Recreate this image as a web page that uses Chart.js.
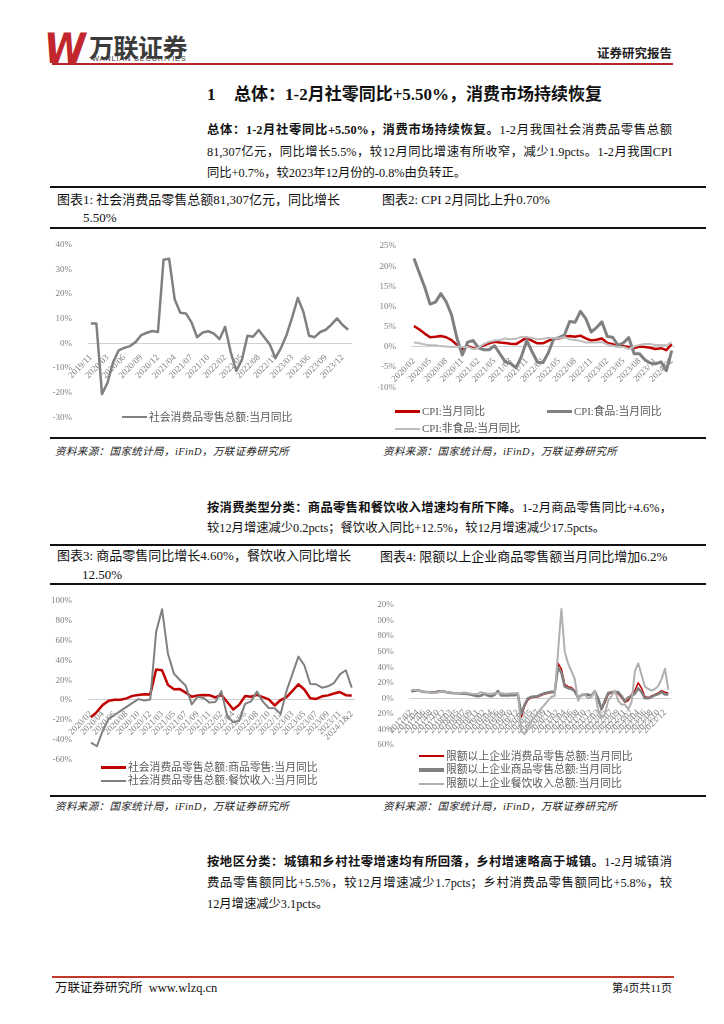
<!DOCTYPE html>
<html lang="zh-CN">
<head>
<meta charset="UTF-8" />
<title>万联证券研究报告</title>
<script src="https://cdn.jsdelivr.net/npm/chart.js@4.4.1/dist/chart.umd.min.js"></script>
<style>
  body { margin: 0; background: #fff; }
  #page {
    position: relative; width: 724px; height: 1024px; overflow: hidden; background: #fff;
    font-family: "Liberation Serif", "Noto Sans CJK SC", serif; color: #111;
  }
  .a { position: absolute; white-space: nowrap; }
  .rule { position: absolute; left: 50px; width: 656px; height: 2px; background: #111; }
  .line { position: absolute; left: 207px; width: 465px; font-size: 12.3px; line-height: 16px;
    text-align: justify; text-align-last: justify; white-space: normal; }
  .line.last { text-align-last: left; }
  .ttl { font-size: 13px; line-height: 16px; }
  .src { font-size: 10.5px; line-height: 14px; font-style: italic; letter-spacing: 0.4px; color: #222; }
  .lg { font-size: 10.8px; line-height: 14px; color: #595959; }
  .lg i { display: inline-block; vertical-align: middle; margin-right: 2px; position: relative; top: -1px; }
  canvas { position: absolute; }
</style>
</head>
<body>
<div id="page">
  <!-- header -->
  <div class="a" style="left:47px;top:29px;font:bold 42px 'DejaVu Sans';color:#c1272d;letter-spacing:-5px;transform:skewX(-8deg) scaleX(0.9);transform-origin:left top;line-height:40px">W</div>
  <div class="a" style="left:89px;top:33px;font:bold 25px 'Noto Sans CJK SC';color:#3b3b3b;line-height:26px;letter-spacing:-0.5px">万联证券</div>
  <div class="a" style="left:92px;top:55px;font:7.5px 'Liberation Sans';color:#3b3b3b;line-height:8px;letter-spacing:0.75px">WANLIAN SECURITIES</div>
  <div class="a" style="left:52px;top:63px;width:621px;height:1.5px;background:#b5272d"></div>
  <div class="a" style="left:572px;top:46px;width:100px;text-align:right;font:bold 12.5px 'Noto Sans CJK SC';line-height:14px;color:#222">证券研究报告</div>

  <div class="a" style="left:207px;top:85px;font-size:17px;line-height:20px;font-weight:bold">1</div>
  <div class="a" style="left:234px;top:85px;font-size:17px;line-height:20px;font-weight:bold">总体：1-2月社零同比+5.50%，消费市场持续恢复</div>

  <div class="line" style="top:122px"><b>总体：1-2月社零同比+5.50%，消费市场持续恢复。</b>1-2月我国社会消费品零售总额</div>
  <div class="line" style="top:143.5px">81,307亿元，同比增长5.5%，较12月同比增速有所收窄，减少1.9pcts。1-2月我国CPI</div>
  <div class="line last" style="top:165px">同比+0.7%，较2023年12月份的-0.8%由负转正。</div>

  <!-- figure row 1 -->
  <div class="rule" style="top:186px"></div>
  <div class="a ttl" style="left:57px;top:192px">图表1:&nbsp;社会消费品零售总额81,307亿元，同比增长</div>
  <div class="a ttl" style="left:83px;top:210px">5.50%</div>
  <div class="a ttl" style="left:382px;top:192px">图表2:&nbsp;CPI 2月同比上升0.70%</div>
  <div class="rule" style="top:227px"></div>
  <canvas id="c1"></canvas>
  <canvas id="c2"></canvas>
  <div class="rule" style="top:437px"></div>
  <div class="a src" style="left:55px;top:445px">资料来源：国家统计局，iFinD，万联证券研究所</div>
  <div class="a src" style="left:383px;top:445px">资料来源：国家统计局，iFinD，万联证券研究所</div>

  <div class="line" style="top:499.5px"><b>按消费类型分类：商品零售和餐饮收入增速均有所下降。</b>1-2月商品零售同比+4.6%，</div>
  <div class="line last" style="top:519.5px">较12月增速减少0.2pcts；餐饮收入同比+12.5%，较12月增速减少17.5pcts。</div>

  <!-- figure row 2 -->
  <div class="rule" style="top:544px"></div>
  <div class="a ttl" style="left:57px;top:548px">图表3:&nbsp;商品零售同比增长4.60%，餐饮收入同比增长</div>
  <div class="a ttl" style="left:82px;top:567px">12.50%</div>
  <div class="a ttl" style="left:380px;top:549px">图表4:&nbsp;限额以上企业商品零售额当月同比增加6.2%</div>
  <div class="rule" style="top:583px"></div>
  <canvas id="c3"></canvas>
  <canvas id="c4"></canvas>
  <div class="rule" style="top:795px"></div>
  <div class="a src" style="left:55px;top:800px">资料来源：国家统计局，iFinD，万联证券研究所</div>
  <div class="a src" style="left:383px;top:800px">资料来源：国家统计局，iFinD，万联证券研究所</div>

  <div class="line" style="top:854px"><b>按地区分类：城镇和乡村社零增速均有所回落，乡村增速略高于城镇。</b>1-2月城镇消</div>
  <div class="line" style="top:875px">费品零售额同比+5.5%，较12月增速减少1.7pcts；乡村消费品零售额同比+5.8%，较</div>
  <div class="line last" style="top:896px">12月增速减少3.1pcts。</div>

  <!-- footer -->
  <div class="a" style="left:52px;top:976px;width:622px;height:2px;background:#c0392b"></div>
  <div class="a" style="left:55px;top:981px;font-size:12.5px;line-height:15px">万联证券研究所&nbsp;&nbsp;www.wlzq.cn</div>
  <div class="a" style="left:572px;top:981px;width:100px;text-align:right;font-size:11px;line-height:15px">第4页共11页</div>
</div>

<script>
  // 图表1：社零当月同比
  const months1 = ["2019/11","2019/12","2020/02","2020/03","2020/04","2020/05","2020/06","2020/07","2020/08","2020/09","2020/10","2020/11","2020/12",
    "2021/02","2021/03","2021/04","2021/05","2021/06","2021/07","2021/08","2021/09","2021/10","2021/11","2021/12",
    "2022/02","2022/03","2022/04","2022/05","2022/06","2022/07","2022/08","2022/09","2022/10","2022/11","2022/12",
    "2023/02","2023/03","2023/04","2023/05","2023/06","2023/07","2023/08","2023/09","2023/10","2023/11","2023/12","2024/02"];
  const retailYoY = [8.0, 8.0, -20.5, -15.8, -7.5, -2.8, -1.8, -1.1, 0.5, 3.3, 4.3, 5.0, 4.6,
    33.8, 34.2, 17.7, 12.4, 12.1, 8.5, 2.5, 4.4, 4.9, 3.9, 1.7,
    6.7, -3.5, -11.1, -6.7, 3.1, 2.7, 5.4, 2.5, -0.5, -5.9, -1.8,
    3.5, 10.6, 18.4, 12.7, 3.1, 2.5, 4.6, 5.5, 7.6, 10.1, 7.4, 5.5];

  // 图表2：CPI
  const months2 = ["2020/02","2020/03","2020/04","2020/05","2020/06","2020/07","2020/08","2020/09","2020/10","2020/11","2020/12",
    "2021/01","2021/02","2021/03","2021/04","2021/05","2021/06","2021/07","2021/08","2021/09","2021/10","2021/11","2021/12",
    "2022/01","2022/02","2022/03","2022/04","2022/05","2022/06","2022/07","2022/08","2022/09","2022/10","2022/11","2022/12",
    "2023/01","2023/02","2023/03","2023/04","2023/05","2023/06","2023/07","2023/08","2023/09","2023/10","2023/11","2023/12",
    "2024/01","2024/02"];
  const cpiAll = [5.2, 4.3, 3.3, 2.4, 2.5, 2.7, 2.4, 1.7, 0.5, -0.5, 0.2,
    -0.3, -0.2, 0.4, 0.9, 1.3, 1.1, 1.0, 0.8, 0.7, 1.5, 2.3, 1.5,
    0.9, 0.9, 1.5, 2.1, 2.1, 2.5, 2.7, 2.5, 2.8, 2.1, 1.6, 1.8,
    2.1, 1.0, 0.7, 0.1, 0.2, 0.0, -0.3, 0.1, 0.0, -0.2, -0.5, -0.3,
    -0.8, 0.7];
  const cpiFood = [21.9, 18.3, 14.8, 10.6, 11.1, 13.2, 11.2, 7.9, 2.2, -2.0, 1.2,
    1.6, -0.2, -0.7, -0.7, 0.3, -1.7, -3.7, -4.1, -5.2, -2.4, 1.6, -1.2,
    -3.8, -3.9, -1.5, 1.9, 2.3, 2.9, 6.3, 6.1, 8.8, 7.0, 3.7, 4.8,
    6.2, 2.6, 2.4, 0.4, 1.0, 2.3, -1.7, -1.7, -3.2, -4.0, -4.2, -3.7,
    -5.9, -0.9];
  const cpiNonFood = [1.1, 0.9, 0.6, 0.4, 0.4, 0.2, 0.1, 0.0, 0.1, 0.0, 0.0,
    -0.5, -0.2, 0.7, 1.3, 1.6, 1.7, 2.1, 1.9, 2.0, 2.5, 2.4, 2.2,
    1.9, 2.0, 2.2, 2.2, 2.1, 2.5, 1.9, 1.7, 1.5, 1.1, 1.1, 1.1,
    1.2, 0.6, 0.3, 0.0, 0.0, -0.5, 0.1, 0.5, 0.7, 0.7, 0.5, 0.5,
    0.4, 1.1];

  // 图表3：商品零售 / 餐饮收入
  const months3 = ["2020/02","2020/03","2020/04","2020/05","2020/06","2020/07","2020/08","2020/09","2020/10","2020/11","2020/12",
    "2021/02","2021/03","2021/04","2021/05","2021/06","2021/07","2021/08","2021/09","2021/10","2021/11","2021/12",
    "2022/02","2022/03","2022/04","2022/05","2022/06","2022/07","2022/08","2022/09","2022/10","2022/11","2022/12",
    "2023/02","2023/03","2023/04","2023/05","2023/06","2023/07","2023/08","2023/09","2023/10","2023/11","2023/12",
    "2024/1&2"];
  const goodsYoY = [-17.6, -12.0, -5.0, -0.8, 0.2, 0.2, 1.6, 4.1, 5.0, 5.8, 5.6,
    30.7, 29.9, 15.1, 10.9, 11.0, 7.4, 3.3, 4.5, 4.9, 4.8, 2.5,
    5.0, -2.1, -9.7, -5.0, 3.9, 3.2, 5.1, 2.8, 0.5, -5.6, -0.1,
    2.9, 9.1, 15.9, 10.5, 1.7, 1.0, 3.7, 4.6, 6.5, 8.0, 4.8,
    4.6];
  const cateringYoY = [-43.1, -46.8, -31.1, -18.9, -15.2, -11.0, -7.0, -2.9, 0.8, -0.6, 0.4,
    68.9, 91.6, 46.4, 26.6, 20.2, 14.3, -4.5, 3.1, 2.0, -2.7, -2.2,
    8.9, -16.4, -22.7, -21.1, -4.0, -1.5, 8.4, -1.7, -8.1, -8.4, -14.1,
    9.2, 26.3, 43.8, 35.1, 16.1, 15.8, 12.4, 13.8, 17.1, 25.8, 30.0,
    12.5];

  // 图表4：限额以上企业
  const months4 = ["2017/02","2017/03","2017/04","2017/05","2017/06","2017/07","2017/08","2017/09","2017/10","2017/11","2017/12",
    "2018/02","2018/03","2018/04","2018/05","2018/06","2018/07","2018/08","2018/09","2018/10","2018/11","2018/12",
    "2019/02","2019/03","2019/04","2019/05","2019/06","2019/07","2019/08","2019/09","2019/10","2019/11","2019/12",
    "2020/02","2020/03","2020/04","2020/05","2020/06","2020/07","2020/08","2020/09","2020/10","2020/11","2020/12",
    "2021/02","2021/03","2021/04","2021/05","2021/06","2021/07","2021/08","2021/09","2021/10","2021/11","2021/12",
    "2022/02","2022/03","2022/04","2022/05","2022/06","2022/07","2022/08","2022/09","2022/10","2022/11","2022/12",
    "2023/02","2023/03","2023/04","2023/05","2023/06","2023/07","2023/08","2023/09","2023/10","2023/11","2023/12",
    "2024/02"];
  const aboveTotal = [9.5, 10.0, 11.0, 9.5, 8.5, 8.5, 8.0, 8.0, 9.0, 9.5, 9.0,
    8.0, 7.5, 7.0, 7.0, 6.5, 6.5, 6.0, 5.0, 4.0, 3.0, 4.0,
    6.5, 4.0, 3.0, 5.0, 9.5, 4.0, 4.0, 4.0, 4.5, 4.5, 5.5,
    -24.0, -10.0, -2.0, 1.0, 1.5, 2.0, 4.0, 5.5, 6.5, 7.5, 7.5,
    45.0, 38.0, 18.0, 15.0, 14.0, 10.0, 1.0, 4.0, 5.0, 4.0, 3.0,
    9.0, -2.0, -14.0, -6.0, 5.0, 7.0, 8.0, 6.0, 1.0, -5.0, -3.0,
    5.0, 10.0, 20.0, 13.0, 2.0, 1.0, 3.0, 5.0, 7.0, 10.0, 8.0,
    6.5];
  const aboveGoods = [9.0, 9.5, 10.5, 9.0, 8.0, 8.0, 7.5, 7.5, 8.5, 9.0, 8.5,
    7.5, 7.0, 6.5, 6.5, 6.0, 6.0, 5.5, 4.5, 3.5, 2.5, 3.5,
    6.0, 3.5, 2.5, 4.5, 9.5, 3.5, 3.5, 3.5, 4.0, 4.0, 5.0,
    -20.0, -8.0, 0.0, 2.0, 2.5, 3.0, 5.0, 6.5, 7.5, 8.5, 8.0,
    40.0, 33.0, 15.0, 13.0, 12.0, 9.0, 1.0, 4.0, 5.0, 5.0, 3.5,
    9.0, 0.0, -14.0, -3.0, 7.0, 8.0, 8.0, 8.0, 3.0, -4.0, 1.0,
    3.0, 6.0, 13.0, 8.0, 0.0, 0.0, 2.0, 4.0, 5.5, 8.0, 5.0,
    5.0];
  const aboveCatering = [10.5, 11.0, 10.0, 9.0, 8.5, 8.0, 7.5, 7.0, 7.5, 9.0, 8.5,
    8.0, 7.0, 6.5, 6.5, 7.0, 7.5, 7.0, 6.0, 5.5, 6.0, 8.0,
    6.5, 6.0, 6.0, 6.5, 7.0, 6.5, 6.0, 6.0, 6.5, 6.5, 7.0,
    -42.0, -46.0, -38.0, -30.0, -24.0, -18.0, -13.0, -8.0, -3.0, 2.0, 3.0,
    60.0, 115.0, 60.0, 45.0, 35.0, 25.0, -3.0, 5.0, 5.0, 0.0, 2.0,
    10.0, -15.0, -25.0, -20.0, -3.0, 3.0, 10.0, -3.0, -8.0, -8.0, -14.0,
    -5.0, 35.0, 45.0, 30.0, 15.0, 12.0, 10.0, 12.0, 16.0, 25.0, 38.0,
    11.0];

  const RED = "#c00000", GRAY = "#808080", LIGHT = "#bdbdbd";
  const tickFont = { family: "Liberation Serif", size: 9 };
  const tickColor = "#808080";
  const page = document.getElementById("page");

  // box = canvas position on page, area = plot area on page, yl = right edge of y labels
  function lineChart(id, box, area, labels, series, yMin, yMax, yStep, every) {
    const cv = document.getElementById(id);
    cv.width = box.w;
    cv.height = box.h;
    cv.style.left = box.x + "px";
    cv.style.top = box.y + "px";
    return new Chart(cv, {
      type: "line",
      data: {
        labels: labels,
        datasets: series.map((s, k) => ({
          label: s.name,
          data: s.data,
          borderColor: s.color,
          borderWidth: s.width,
          pointRadius: 0,
          tension: 0,
          fill: false,
          borderJoinStyle: "round",
          order: series.length - k
        }))
      },
      options: {
        responsive: false,
        animation: false,
        devicePixelRatio: 1,
        layout: {
          padding: {
            left: 0,
            top: area.top - box.y,
            right: box.x + box.w - area.right,
            bottom: box.y + box.h - area.bottom
          }
        },
        plugins: { legend: { display: false }, tooltip: { enabled: false } },
        scales: {
          x: {
            offset: true,
            position: { y: 0 },
            grid: { display: false },
            border: { color: "#d0d0d0", width: 1 },
            ticks: {
              autoSkip: false, minRotation: 45, maxRotation: 45, padding: 1,
              color: tickColor, font: tickFont,
              callback: (v, i) => (i % every === 0 ? labels[i] : "")
            }
          },
          y: {
            min: yMin, max: yMax,
            grid: { display: false },
            border: { display: false },
            ticks: {
              stepSize: yStep, padding: area.left - area.yl,
              color: tickColor, font: tickFont,
              callback: v => v + "%"
            },
            afterFit: s => { s.width = area.left - box.x; }
          }
        }
      }
    });
  }

  function legendRow(x, y, s, lineW) {
    const d = document.createElement("div");
    d.className = "a lg";
    d.style.left = x + "px";
    d.style.top = (y - 7) + "px";
    d.innerHTML = '<i style="width:' + lineW + 'px;height:' + s.lw + 'px;background:' + s.color + '"></i>' + s.name;
    page.appendChild(d);
  }

  const s1 = [{ name: "社会消费品零售总额:当月同比", data: retailYoY, color: GRAY, width: 2.5, lw: 2.5 }];
  lineChart("c1", { x: 52, y: 231, w: 310, h: 200 }, { left: 88, right: 351, top: 239, bottom: 424.3, yl: 80 },
    months1, s1, -30, 40, 10, 3);
  legendRow(122, 416.7, s1[0], 25);

  const s2 = [
    { name: "CPI:当月同比", data: cpiAll, color: RED, width: 2.5, lw: 3.5 },
    { name: "CPI:食品:当月同比", data: cpiFood, color: GRAY, width: 3, lw: 3.5 },
    { name: "CPI:非食品:当月同比", data: cpiNonFood, color: LIGHT, width: 2, lw: 2 }
  ];
  lineChart("c2", { x: 378, y: 231, w: 310, h: 200 }, { left: 411.3, right: 674.4, top: 246, bottom: 387.3, yl: 404 },
    months2, s2, -10, 25, 5, 3);
  legendRow(395, 411, s2[0], 25);
  legendRow(547, 411, s2[1], 25);
  legendRow(395, 428, s2[2], 25);

  const s3 = [
    { name: "社会消费品零售总额:商品零售:当月同比", data: goodsYoY, color: RED, width: 2.5, lw: 3 },
    { name: "社会消费品零售总额:餐饮收入:当月同比", data: cateringYoY, color: GRAY, width: 2, lw: 2 }
  ];
  lineChart("c3", { x: 52, y: 587, w: 310, h: 190 }, { left: 88, right: 354.7, top: 601, bottom: 759.3, yl: 80 },
    months3, s3, -60, 100, 20, 2);
  legendRow(101, 766.7, s3[0], 25);
  legendRow(101, 780, s3[1], 25);

  const s4 = [
    { name: "限额以上企业消费品零售总额:当月同比", data: aboveTotal, color: RED, width: 1.5, lw: 2.5 },
    { name: "限额以上企业商品零售总额:当月同比", data: aboveGoods, color: GRAY, width: 2.5, lw: 3.5 },
    { name: "限额以上企业餐饮收入总额:当月同比", data: aboveCatering, color: "#b0b0b0", width: 2, lw: 2 }
  ];
  lineChart("c4", { x: 378, y: 587, w: 310, h: 190 }, { left: 409.3, right: 670, top: 605, bottom: 745, yl: 401.7 },
    months4, s4, -60, 120, 20, 2);
  legendRow(419, 755.7, s4[0], 25);
  legendRow(419, 769.3, s4[1], 25);
  legendRow(419, 783.3, s4[2], 25);
</script>
</body>
</html>
